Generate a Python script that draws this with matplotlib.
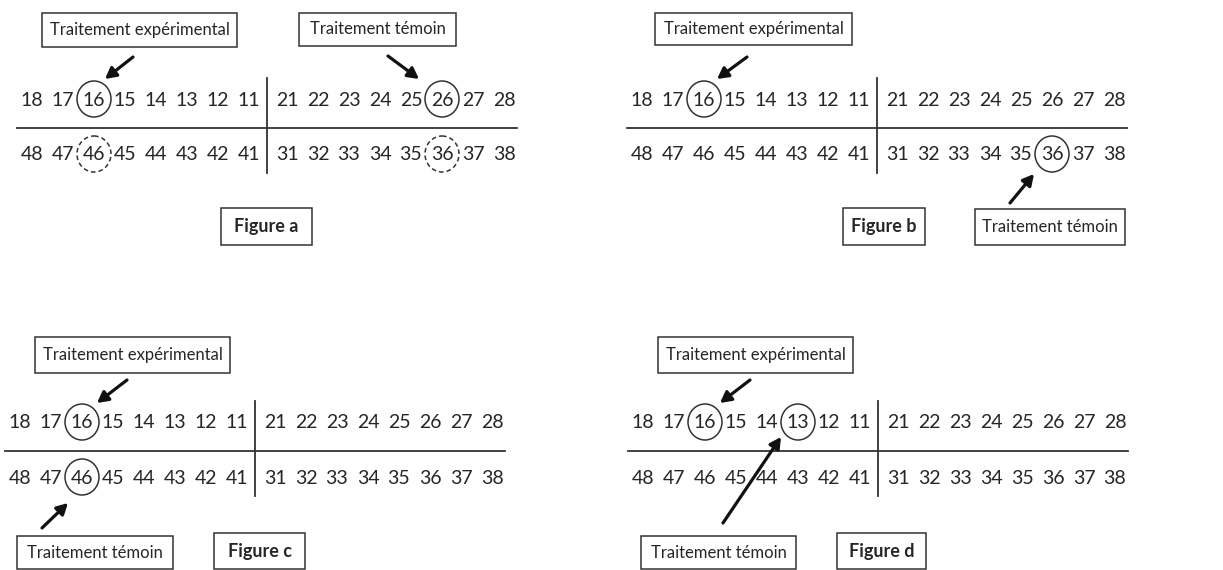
import matplotlib.pyplot as plt
from matplotlib.patches import Ellipse, Rectangle

# tooth numbers, per quadrant (left to right as drawn)
upper_left = [18, 17, 16, 15, 14, 13, 12, 11]
upper_right = [21, 22, 23, 24, 25, 26, 27, 28]
lower_left = [48, 47, 46, 45, 44, 43, 42, 41]
lower_right = [31, 32, 33, 34, 35, 36, 37, 38]

panel_names = ['Figure a', 'Figure b', 'Figure c', 'Figure d']
circled = [[16, 26], [16, 36], [16, 46], [16, 13]]
dashed = [[46, 36], [], [], []]

EXP = 'Traitement expérimental'
TEM = 'Traitement témoin'

# layout, in pixels of the 1223x570 picture
origins = [(0, 0), (610, 0), (-12, 323), (611, 323)]
boxes = [
    [(EXP, 42, 13, 237, 47), (TEM, 299, 13, 456, 46), ('Figure a', 221, 208, 312, 245)],
    [(EXP, 655, 13, 852, 45), (TEM, 975, 209, 1125, 245), ('Figure b', 843, 208, 925, 245)],
    [(EXP, 35, 337, 230, 373), (TEM, 17, 536, 173, 569), ('Figure c', 214, 533, 305, 569)],
    [(EXP, 658, 337, 853, 373), (TEM, 641, 536, 796, 569), ('Figure d', 837, 533, 926, 569)],
]
arrows = [
    [((133, 57), (105, 79)), ((388, 56), (419, 79))],
    [((747, 57), (717, 79)), ((1010, 203), (1034, 174))],
    [((127, 380), (97, 403)), ((42, 528), (68, 503))],
    [((750, 380), (720, 403)), ((723, 523), (781, 437))],
]

TXT = '#262626'
plt.rcParams['font.family'] = ['Lato', 'DejaVu Sans']

fig = plt.figure(figsize=(12.23, 5.70), dpi=100)
ax = fig.add_axes([0, 0, 1, 1])
ax.set_xlim(0, 1223)
ax.set_ylim(570, 0)
ax.axis('off')


def tooth_xy(tooth, ox, oy):
    for row, y in ((upper_left, 100), (lower_left, 155)):
        if tooth in row:
            return ox + 32 + 31 * row.index(tooth), oy + y
    for row, y in ((upper_right, 100), (lower_right, 155)):
        if tooth in row:
            return ox + 287 + 31 * row.index(tooth), oy + y


for p, (ox, oy) in enumerate(origins):
    # quadrant cross
    ax.plot([ox + 17, ox + 517], [oy + 128, oy + 128], color='#333333', lw=1.3)
    ax.plot([ox + 267, ox + 267], [oy + 78, oy + 173], color='#333333', lw=1.3)

    for tooth in upper_left + upper_right + lower_left + lower_right:
        x, y = tooth_xy(tooth, ox, oy)
        ax.text(x, y, str(tooth), ha='center', va='center', fontsize=14, color=TXT)

    for tooth in circled[p]:
        x, y = tooth_xy(tooth, ox, oy)
        ax.add_patch(Ellipse((x, y - 1), 34, 36, fill=False, ec='#333333', lw=1.1))
    for tooth in dashed[p]:
        x, y = tooth_xy(tooth, ox, oy)
        ax.add_patch(Ellipse((x, y - 1), 34, 36, fill=False, ec='#333333', lw=1.1,
                             ls=(0, (3, 2))))

    for label, x0, y0, x1, y1 in boxes[p]:
        ax.add_patch(Rectangle((x0, y0), x1 - x0, y1 - y0, fill=False, ec='#333333', lw=1.1))
        bold = label.startswith('Figure')
        ax.text((x0 + x1) / 2, (y0 + y1) / 2, label, ha='center', va='center',
                fontsize=13 if bold else 12, fontweight='bold' if bold else 'normal',
                color=TXT)

    for start, end in arrows[p]:
        ax.annotate('', xy=end, xytext=start,
                    arrowprops=dict(arrowstyle='-|>,head_length=0.65,head_width=0.35',
                                    color='#111111', lw=2.3, shrinkA=0, shrinkB=0))

fig.savefig('out.png', dpi=100, facecolor='white')
